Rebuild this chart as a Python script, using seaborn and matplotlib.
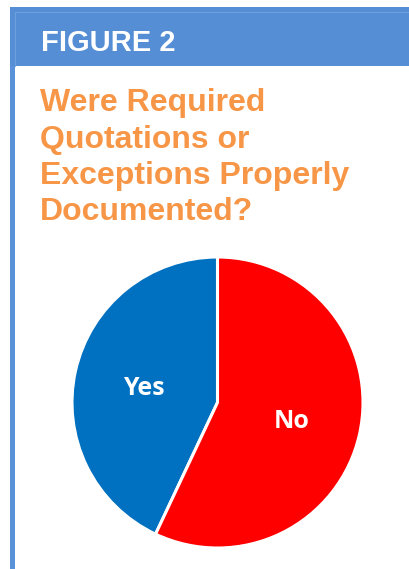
import matplotlib
matplotlib.use("Agg")
import matplotlib.pyplot as plt
from matplotlib.patches import Rectangle
import seaborn as sns

# Survey answers
answers = ["Yes", "No"]
shares = [43, 57]
answer_colors = ["#0070C0", "#FF0000"]

header_text = "FIGURE 2"
title_lines = ["Were Required", "Quotations or", "Exceptions Properly", "Documented?"]

sns.set_theme(style="white")
plt.rcParams["font.family"] = ["Liberation Sans", "DejaVu Sans"]

W, H = 409, 569
fig = plt.figure(figsize=(W / 100, H / 100), dpi=100)
fig.patch.set_facecolor("white")


def fx(px):
    return px / W


def fy(py):
    return 1 - py / H


band = "#558ED5"
# header band and left rule
fig.patches.append(Rectangle((fx(10), fy(66)), fx(W - 10), (59) / H,
                             transform=fig.transFigure, facecolor=band, edgecolor="none"))
fig.patches.append(Rectangle((fx(10), 0), fx(5), fy(66),
                             transform=fig.transFigure, facecolor="#5A92DA", edgecolor="none"))
fig.lines.append(plt.Line2D([fx(15), fx(W)], [fy(12), fy(12)], transform=fig.transFigure,
                            color="#6FA0DE", lw=0.8))
fig.lines.append(plt.Line2D([fx(15), fx(15)], [fy(12), fy(66)], transform=fig.transFigure,
                            color="#6FA0DE", lw=0.8))

fig.text(fx(41), fy(51), header_text, color="white", fontsize=21, fontweight="bold",
         va="baseline", ha="left")

for i, line in enumerate(title_lines):
    fig.text(fx(40), fy(111 + i * 36.5), line, color="#F79646", fontsize=23,
             fontweight="bold", va="baseline", ha="left")

# pie: centre (217.5, 402.5) px, radius 145.5 px
r = 145.5
cx, cy = 217.5, 402.5
ax = fig.add_axes([fx(cx - r), fy(cy + r), 2 * r / W, 2 * r / H])
wedges, labels = ax.pie(shares, labels=answers, colors=answer_colors, startangle=90,
                        counterclock=True, labeldistance=0.52,
                        wedgeprops=dict(edgecolor="white", linewidth=2.2),
                        textprops=dict(color="white", fontsize=18, fontweight="bold",
                                       family=["Open Sans", "DejaVu Sans"],
                                       ha="center", va="center"))
# nudge the labels down a little so the glyphs sit centred
for t in labels:
    x, y = t.get_position()
    t.set_position((x, y - 0.02))
ax.set_xlim(-1, 1)
ax.set_ylim(-1, 1)
ax.set_aspect("auto")
ax.axis("off")

fig.savefig("out.png", dpi=100, facecolor="white")
